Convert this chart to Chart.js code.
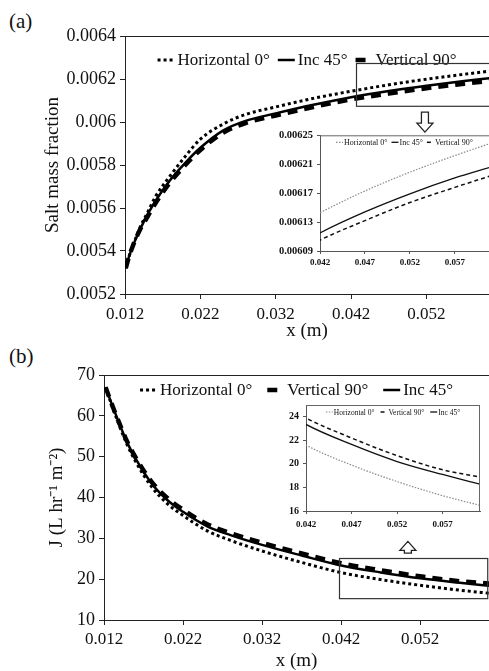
<!DOCTYPE html>
<html><head><meta charset="utf-8">
<script src="https://cdn.jsdelivr.net/npm/chart.js@4.4.1/dist/chart.umd.min.js"></script>
<style>
html,body{margin:0;padding:0;background:#fff;width:489px;height:671px;overflow:hidden;}
canvas{position:absolute;display:block;}
.lbl{position:absolute;font-family:"Liberation Serif","Times New Roman",serif;font-size:21px;color:#111;line-height:1;}
</style></head><body>
<div class="lbl" style="left:9px;top:11px">(a)</div>
<div class="lbl" style="left:9px;top:346px">(b)</div>
<canvas id="mainA" width="489" height="345" style="left:0;top:0"></canvas>
<canvas id="insetA" width="239" height="150" style="left:250px;top:125px"></canvas>
<canvas id="mainB" width="489" height="326" style="left:0;top:345px"></canvas>
<canvas id="insetB" width="259" height="140" style="left:230px;top:395px"></canvas>
<script>
// ---------- data: panel (a) salt mass fraction ----------
const xA = [0.0121,0.0125,0.013,0.014,0.015,0.016,0.018,0.020,0.022,0.025,0.028,0.032,0.037,0.042,0.047,0.052,0.057,0.061];
const horizA = [0.00532,0.00537,0.00542,0.00551,0.00558,0.00565,0.00575,0.00584,0.00592,0.00599,0.006035,0.00607,0.00611,0.006143,0.006173,0.006199,0.006222,0.006239];
const incA   = [0.00532,0.00537,0.00542,0.00550,0.00557,0.00563,0.00573,0.00581,0.00588,0.00596,0.006005,0.00604,0.00608,0.006115,0.006144,0.006169,0.006191,0.006206];
const vertA  = [0.00532,0.00537,0.00542,0.00550,0.00556,0.00562,0.00572,0.00580,0.00587,0.00595,0.005995,0.00603,0.00607,0.006105,0.006132,0.006157,0.006178,0.006194];
const xTicksA = [0.012,0.022,0.032,0.042,0.052];
const yTicksA = [0.0052,0.0054,0.0056,0.0058,0.006,0.0062,0.0064];
const xTicksInA = [0.042,0.047,0.052,0.057];
const yTicksInA = [0.00609,0.00613,0.00617,0.00621,0.00625];

// ---------- data: panel (b) flux J ----------
const xB = [0.0122,0.013,0.014,0.015,0.016,0.018,0.020,0.022,0.025,0.028,0.032,0.037,0.042,0.047,0.052,0.057,0.061];
const horizB = [67,62.5,57.3,52.6,48.8,42.7,38.5,35.6,31.9,29.5,26.9,24.1,21.6,19.9,18.5,17.3,16.5];
const vertB  = [67,62.8,57.9,53.4,49.8,43.9,39.9,37.0,33.5,31.3,28.9,26.3,23.9,22.2,20.7,19.5,18.9];
const incB   = [67,62.8,57.8,53.2,49.5,43.5,39.4,36.5,33.0,30.8,28.4,25.8,23.35,21.65,20.2,19.1,18.3];
const xTicksB = [0.012,0.022,0.032,0.042,0.052];
const yTicksB = [10,20,30,40,50,60,70];
const xTicksInB = [0.042,0.047,0.052,0.057];
const yTicksInB = [16,18,20,22,24];

const LBL_H = 'Horizontal 0°', LBL_I = 'Inc 45°', LBL_V = 'Vertical 90°';

const SERIF = '"Liberation Serif","Times New Roman",serif';
Chart.defaults.font.family = SERIF;
Chart.defaults.color = '#111';
const pts = (xs, ys) => xs.map((x, i) => ({x, y: ys[i]}));

// ---------- plugins (legend inside plot, frame, zoom box, arrow) ----------
const inLegend = {
  id: 'inLegend',
  afterDatasetsDraw(chart, args, o) {
    if (!o || !o.show) return;
    const {ctx, chartArea} = chart;
    ctx.save();
    ctx.font = o.font;
    const items = chart.data.datasets.map(ds => ({ds, w: o.sample + o.textGap + ctx.measureText(ds.label).width}));
    const total = items.reduce((s, i) => s + i.w, 0) + o.gap * (items.length - 1);
    let x = (chartArea.left + chartArea.right) / 2 - total / 2 + (o.dx || 0);
    const y = chartArea.top + o.dy;
    items.forEach(it => {
      const ds = it.ds;
      ctx.beginPath();
      ctx.strokeStyle = ds.borderColor;
      ctx.lineWidth = ds.borderWidth;
      ctx.setLineDash(ds.borderDash || []);
      ctx.moveTo(x, y); ctx.lineTo(x + o.sample, y); ctx.stroke();
      ctx.setLineDash([]);
      ctx.fillStyle = o.color; ctx.textBaseline = 'middle'; ctx.textAlign = 'left';
      ctx.fillText(ds.label, x + o.sample + o.textGap, y + 1);
      x += it.w + o.gap;
    });
    ctx.restore();
  }
};
const frame = {
  id: 'frame',
  afterDraw(chart, args, o) {
    if (!o || !o.show) return;
    const {ctx, chartArea: a} = chart;
    ctx.save();
    ctx.strokeStyle = o.color; ctx.lineWidth = o.width;
    ctx.beginPath();
    if (o.top) { ctx.moveTo(a.left, a.top + 0.5); ctx.lineTo(a.right, a.top + 0.5); }
    if (o.right) { ctx.moveTo(a.right - 0.5, a.top); ctx.lineTo(a.right - 0.5, a.bottom); }
    ctx.stroke();
    ctx.restore();
  }
};
const zoomMark = {
  id: 'zoomMark',
  afterDraw(chart, args, o) {
    if (!o || !o.box) return;
    const {ctx} = chart; const sx = chart.scales.x, sy = chart.scales.y;
    const b = o.box;
    const x0 = sx.getPixelForValue(b.x0), x1 = sx.getPixelForValue(b.x1);
    const y0 = sy.getPixelForValue(b.y0), y1 = sy.getPixelForValue(b.y1);
    ctx.save();
    ctx.strokeStyle = '#333'; ctx.lineWidth = 1.2;
    ctx.strokeRect(Math.round(x0) + 0.5, Math.round(y1) + 0.5, x1 - x0, y0 - y1);
    // hollow arrow
    const ar = o.arrow;
    const cx = sx.getPixelForValue(ar.x);
    const yTail = sy.getPixelForValue(ar.tail), yTip = sy.getPixelForValue(ar.tip);
    const dir = yTip > yTail ? 1 : -1;
    const sw = 3.5, hw = 8, hl = 9;
    const yNeck = yTip - dir * hl;
    ctx.beginPath();
    ctx.moveTo(cx - sw, yTail); ctx.lineTo(cx - sw, yNeck); ctx.lineTo(cx - hw, yNeck);
    ctx.lineTo(cx, yTip); ctx.lineTo(cx + hw, yNeck); ctx.lineTo(cx + sw, yNeck);
    ctx.lineTo(cx + sw, yTail); ctx.closePath();
    ctx.fillStyle = '#fff'; ctx.fill();
    ctx.lineWidth = 1.3; ctx.strokeStyle = '#222'; ctx.stroke();
    ctx.restore();
  }
};

function axis(opt) {
  return {
    type: 'linear', min: opt.min, max: opt.max,
    afterBuildTicks: s => { s.ticks = opt.ticks.map(v => ({value: v})); },
    afterFit: s => { if (opt.w !== undefined) s.width = opt.w; if (opt.h !== undefined) s.height = opt.h; },
    ticks: {autoSkip: false, maxRotation: 0, padding: opt.pad, color: '#111',
      font: {family: SERIF, size: opt.fs, weight: opt.bold ? 'bold' : 'normal'},
      callback: opt.fmt},
    grid: {display: true, drawOnChartArea: false, drawTicks: true, tickLength: opt.tl, tickColor: opt.ac, tickWidth: 1},
    border: {display: true, color: opt.ac, width: 1},
    title: opt.title ? {display: true, text: opt.title, color: '#111',
      font: {family: SERIF, size: 19, lineHeight: opt.tlh || 1.2}, padding: opt.tpad} : {display: false}
  };
}
const fmtFix = d => v => (+(+v).toFixed(d)).toString();
const fmt3 = v => (+v).toFixed(3);

function lineDS(label, xs, ys, style) {
  return Object.assign({label, data: pts(xs, ys), pointRadius: 0, fill: false,
    cubicInterpolationMode: 'monotone', borderCapStyle: 'butt'}, style);
}
const MAIN_H = {borderColor: '#000', borderWidth: 3, borderDash: [3, 3]};
const MAIN_I = {borderColor: '#000', borderWidth: 2.5};
const MAIN_V = {borderColor: '#000', borderWidth: 4.5, borderDash: [10, 7]};
const IN_H = {borderColor: '#8a8a8a', borderWidth: 1.2, borderDash: [1.5, 1.5]};
const IN_I = {borderColor: '#111', borderWidth: 1.3};
const IN_V = {borderColor: '#111', borderWidth: 1.5, borderDash: [4, 3]};

const common = {responsive: false, animation: false, events: [],
  plugins: {legend: {display: false}, tooltip: {enabled: false}}};

// ---------- panel (a) main ----------
new Chart(document.getElementById('mainA'), {
  type: 'line',
  data: {datasets: [
    lineDS(LBL_H, xA, horizA, MAIN_H),
    lineDS(LBL_I, xA, incA, MAIN_I),
    lineDS(LBL_V, xA, vertA, MAIN_V)]},
  options: Object.assign({}, common, {
    layout: {padding: {top: 36, left: 0, right: 0, bottom: 0}},
    scales: {
      x: axis({min: 0.012, max: 0.0603, ticks: xTicksA, h: 51, pad: 5, fs: 17, tl: 5, ac: '#222', fmt: fmt3,
        title: 'x (m)', tpad: {top: 0, bottom: 2.6}}),
      y: axis({min: 0.0052, max: 0.0064, ticks: yTicksA, w: 125, pad: 4, fs: 18, tl: 5, ac: '#222', fmt: fmtFix(5),
        title: 'Salt mass fraction', tpad: {top: 41.6, bottom: 0}})
    },
    plugins: Object.assign({}, common.plugins, {
      inLegend: {show: true, font: '17px ' + SERIF, sample: 17, textGap: 3, gap: 8, dy: 24, color: '#111'},
      frame: {show: true, top: true, color: '#222', width: 1.2},
      zoomMark: {box: {x0: 0.0427, x1: 0.0616, y0: 0.006074, y1: 0.006273},
        arrow: {x: 0.0518, tail: 0.006046, tip: 0.005953}}
    })
  }),
  plugins: [inLegend, frame, zoomMark]
});

// ---------- panel (a) inset ----------
new Chart(document.getElementById('insetA'), {
  type: 'line',
  data: {datasets: [
    lineDS(LBL_H, xA, horizA, IN_H),
    lineDS(LBL_I, xA, incA, IN_I),
    lineDS(LBL_V, xA, vertA, IN_V)]},
  options: Object.assign({}, common, {
    layout: {padding: {top: 8, left: 0, right: 0, bottom: 0}},
    scales: {
      x: axis({min: 0.042, max: 0.0608, ticks: xTicksInA, h: 24, pad: 3, fs: 9, bold: true, tl: 3, ac: '#555', fmt: fmt3}),
      y: axis({min: 0.00609, max: 0.00625, ticks: yTicksInA, w: 70, pad: 4, fs: 10.5, bold: true, tl: 3, ac: '#555', fmt: fmtFix(5)})
    },
    plugins: Object.assign({}, common.plugins, {
      inLegend: {show: true, font: '8px ' + SERIF, sample: 7, textGap: 1, gap: 4, dy: 7, color: '#111'},
      frame: {show: true, top: true, color: '#666', width: 1}
    })
  }),
  plugins: [inLegend, frame]
});

// ---------- panel (b) main ----------
new Chart(document.getElementById('mainB'), {
  type: 'line',
  data: {datasets: [
    lineDS(LBL_H, xB, horizB, MAIN_H),
    lineDS(LBL_V, xB, vertB, MAIN_V),
    lineDS(LBL_I, xB, incB, MAIN_I)]},
  options: Object.assign({}, common, {
    layout: {padding: {top: 30, left: 0, right: 0, bottom: 0}},
    scales: {
      x: axis({min: 0.012, max: 0.0607, ticks: xTicksB, h: 51, pad: 4, fs: 17, tl: 5, ac: '#222', fmt: fmt3,
        title: 'x (m)', tlh: 1.0, tpad: {top: 0, bottom: 0}}),
      y: axis({min: 10, max: 70, ticks: yTicksB, w: 104, pad: 4, fs: 18, tl: 5, ac: '#222', fmt: v => String(v),
        title: 'J (L hr\u207B\u00B9 m\u207B\u00B2)', tpad: {top: 45.6, bottom: 0}})
    },
    plugins: Object.assign({}, common.plugins, {
      inLegend: {show: true, font: '17px ' + SERIF, sample: 17, textGap: 3, gap: 15, dy: 15, color: '#111'},
      frame: {show: true, top: true, color: '#222', width: 1.2},
      zoomMark: {box: {x0: 0.04175, x1: 0.0605, y0: 15.33, y1: 25.16},
        arrow: {x: 0.05044, tail: 26.4, tip: 29.24}}
    })
  }),
  plugins: [inLegend, frame, zoomMark]
});

// ---------- panel (b) inset ----------
new Chart(document.getElementById('insetB'), {
  type: 'line',
  data: {datasets: [
    lineDS(LBL_H, xB, horizB, IN_H),
    lineDS(LBL_V, xB, vertB, IN_V),
    lineDS(LBL_I, xB, incB, IN_I)]},
  options: Object.assign({}, common, {
    layout: {padding: {top: 9, left: 0, right: 9, bottom: 0}},
    scales: {
      x: axis({min: 0.042, max: 0.0611, ticks: xTicksInB, h: 24, pad: 5, fs: 9, bold: true, tl: 3, ac: '#555', fmt: fmt3}),
      y: axis({min: 16, max: 25, ticks: yTicksInB, w: 76, pad: 4, fs: 10, bold: true, tl: 3, ac: '#555', fmt: v => String(v)})
    },
    plugins: Object.assign({}, common.plugins, {
      inLegend: {show: true, font: '7.5px ' + SERIF, sample: 7, textGap: 1, gap: 6, dy: 7, color: '#111'},
      frame: {show: true, top: true, right: true, color: '#666', width: 1}
    })
  }),
  plugins: [inLegend, frame]
});
</script>
</body></html>
